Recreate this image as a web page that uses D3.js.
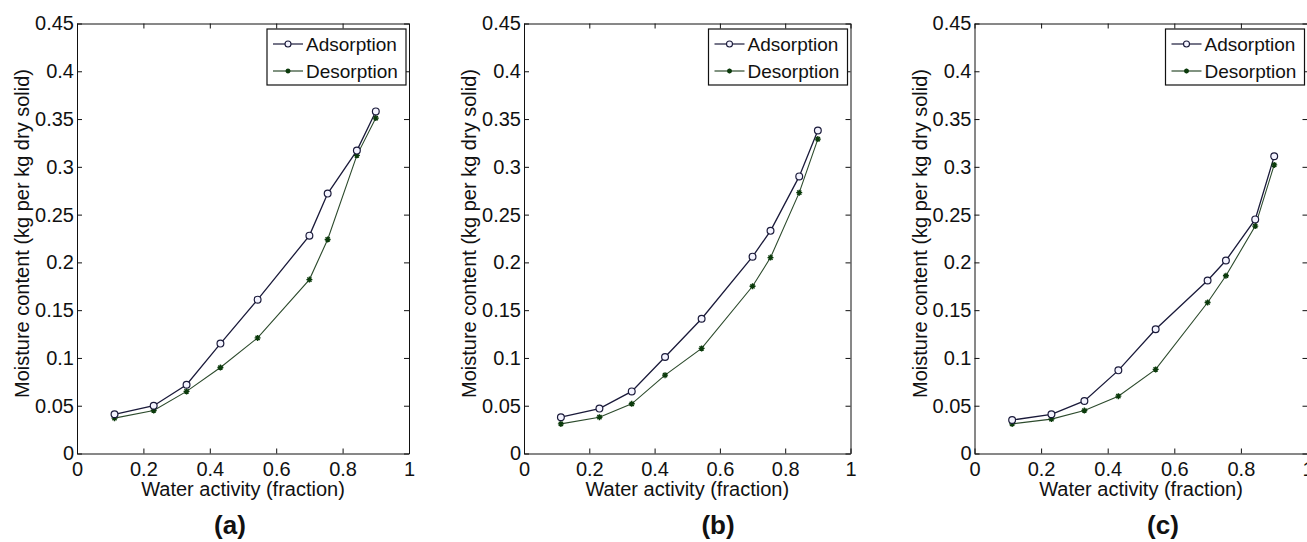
<!DOCTYPE html>
<html>
<head>
<meta charset="utf-8">
<script src="https://cdn.jsdelivr.net/npm/d3@7"></script>
<style>
  html, body { margin: 0; padding: 0; background: #ffffff; }
  svg { display: block; font-family: "Liberation Sans", Arial, Helvetica, sans-serif; }
</style>
</head>
<body>
<svg id="chart" width="1307" height="542"></svg>
<script>
// ---- data ----
const waterActivity = [0.113, 0.231, 0.33, 0.432, 0.544, 0.70, 0.755, 0.843, 0.90];
const adsorptionA = [0.041, 0.050, 0.072, 0.115, 0.161, 0.228, 0.272, 0.317, 0.358];
const desorptionA = [0.037, 0.045, 0.065, 0.090, 0.121, 0.182, 0.224, 0.312, 0.351];
const adsorptionB = [0.038, 0.047, 0.065, 0.101, 0.141, 0.206, 0.233, 0.290, 0.338];
const desorptionB = [0.031, 0.038, 0.052, 0.082, 0.110, 0.175, 0.205, 0.273, 0.329];
const adsorptionC = [0.035, 0.041, 0.055, 0.087, 0.130, 0.181, 0.202, 0.245, 0.311];
const desorptionC = [0.031, 0.036, 0.045, 0.060, 0.088, 0.158, 0.186, 0.238, 0.302];
const panelLetters = ["(a)", "(b)", "(c)"];
const seriesNames = ["Adsorption", "Desorption"];
const xTicks = [0, 0.2, 0.4, 0.6, 0.8, 1];
const xTickLabels = ["0", "0.2", "0.4", "0.6", "0.8", "1"];
const yTicks = [0, 0.05, 0.1, 0.15, 0.2, 0.25, 0.3, 0.35, 0.4, 0.45];
const yTickLabels = ["0", "0.05", "0.1", "0.15", "0.2", "0.25", "0.3", "0.35", "0.4", "0.45"];
const xLabel = "Water activity (fraction)";
const yLabel = "Moisture content (kg per kg dry solid)";

// ---- layout (not data) ----
const layout = [
  { left: 77, right: 409, letterX: 230 },
  { left: 524, right: 850.5, letterX: 718 },
  { left: 974.5, right: 1307.5, letterX: 1163 }
];
const plotTop = 23.5, plotBottom = 453.5;
const adsColor = "#1a1a3a", desColor = "#2c4a2c", desMarker = "#0b3a0b";

const seriesSets = [
  [adsorptionA, desorptionA],
  [adsorptionB, desorptionB],
  [adsorptionC, desorptionC]
];

const svg = d3.select("#chart");

function asterisk(g, x, y, s, color) {
  const p = `M${x - s},${y}L${x + s},${y}M${x},${y - s}L${x},${y + s}` +
            `M${x - s * 0.7},${y - s * 0.7}L${x + s * 0.7},${y + s * 0.7}` +
            `M${x - s * 0.7},${y + s * 0.7}L${x + s * 0.7},${y - s * 0.7}`;
  g.append("path").attr("d", p).attr("stroke", color).attr("stroke-width", 1.4).attr("fill", "none");
}

layout.forEach((L, i) => {
  const x = d3.scaleLinear().domain([0, 1]).range([L.left, L.right]);
  const y = d3.scaleLinear().domain([0, 0.45]).range([plotBottom, plotTop]);
  const g = svg.append("g");

  const styleAxis = sel => {
    sel.selectAll("path.domain").attr("stroke", "#111").attr("stroke-width", 1);
    sel.selectAll(".tick line").attr("stroke", "#111").attr("stroke-width", 1);
    sel.selectAll(".tick text").attr("fill", "#111").attr("font-size", 20)
      .attr("font-family", "'Liberation Sans', Arial, sans-serif");
  };

  g.append("g").attr("transform", `translate(0,${plotBottom})`)
    .call(d3.axisBottom(x).tickValues(xTicks).tickFormat((d, k) => xTickLabels[k])
      .tickSizeInner(-5).tickSizeOuter(0).tickPadding(8))
    .call(styleAxis);
  g.append("g").attr("transform", `translate(0,${plotTop})`)
    .call(d3.axisTop(x).tickValues(xTicks).tickFormat("").tickSizeInner(-5).tickSizeOuter(0))
    .call(styleAxis);
  g.append("g").attr("transform", `translate(${L.left},0)`)
    .call(d3.axisLeft(y).tickValues(yTicks).tickFormat((d, k) => yTickLabels[k])
      .tickSizeInner(-5).tickSizeOuter(0).tickPadding(3))
    .call(styleAxis);
  g.append("g").attr("transform", `translate(${L.right},0)`)
    .call(d3.axisRight(y).tickValues(yTicks).tickFormat("").tickSizeInner(-5).tickSizeOuter(0))
    .call(styleAxis);

  const [ads, des] = seriesSets[i];
  const line = d3.line().x((d, k) => x(waterActivity[k])).y(d => y(d));

  g.append("path").datum(des).attr("d", line)
    .attr("fill", "none").attr("stroke", desColor).attr("stroke-width", 1.1);
  g.append("path").datum(ads).attr("d", line)
    .attr("fill", "none").attr("stroke", adsColor).attr("stroke-width", 1.3);

  des.forEach((v, k) => asterisk(g, x(waterActivity[k]), y(v), 3, desMarker));
  g.selectAll("circle.ads").data(ads).enter().append("circle")
    .attr("cx", (d, k) => x(waterActivity[k])).attr("cy", d => y(d)).attr("r", 3.4)
    .attr("fill", "#f4f4ff").attr("stroke", adsColor).attr("stroke-width", 1.2);

  // legend
  const lw = 139, lh = 56;
  const lx = L.right - 3 - lw, ly = plotTop + 5.5;
  const lg = g.append("g");
  lg.append("rect").attr("x", lx).attr("y", ly).attr("width", lw).attr("height", lh)
    .attr("fill", "#fff").attr("stroke", "#111").attr("stroke-width", 1.2);
  seriesNames.forEach((name, k) => {
    const cy = ly + 15 + k * 27;
    const col = k === 0 ? adsColor : desColor;
    lg.append("line").attr("x1", lx + 6).attr("x2", lx + 36).attr("y1", cy).attr("y2", cy)
      .attr("stroke", col).attr("stroke-width", 1.2);
    if (k === 0) {
      lg.append("circle").attr("cx", lx + 21).attr("cy", cy).attr("r", 3)
        .attr("fill", "#f4f4ff").attr("stroke", adsColor).attr("stroke-width", 1.1);
    } else {
      asterisk(lg, lx + 21, cy, 2.5, desMarker);
    }
    lg.append("text").attr("x", lx + 39).attr("y", cy + 7).attr("font-size", 19)
      .attr("fill", "#111").text(name);
  });

  g.append("text").attr("x", (L.left + L.right) / 2).attr("y", 496)
    .attr("text-anchor", "middle").attr("font-size", 20).attr("fill", "#111").text(xLabel);
  g.append("text").attr("transform", `translate(${L.left - 48},${(plotTop + plotBottom) / 2 - 5}) rotate(-90)`)
    .attr("text-anchor", "middle").attr("font-size", 20).attr("fill", "#111").text(yLabel);

  g.append("text").attr("x", L.letterX).attr("y", 534).attr("text-anchor", "middle")
    .attr("font-size", 26).attr("font-weight", "bold").attr("fill", "#111").text(panelLetters[i]);
});
</script>
</body>
</html>
